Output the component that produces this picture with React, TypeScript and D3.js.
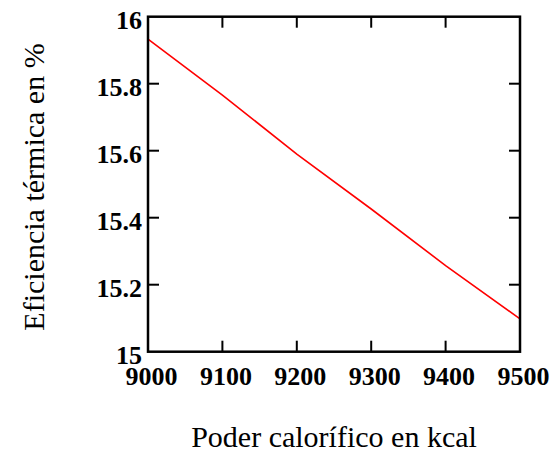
import * as d3 from "d3";

const poder: number[] = [9000, 9100, 9200, 9300, 9400, 9500];
const eficiencia: number[] = [15.933, 15.766, 15.59, 15.426, 15.257, 15.098];
const xTicks: number[] = [9000, 9100, 9200, 9300, 9400, 9500];
const yTicks: number[] = [15, 15.2, 15.4, 15.6, 15.8, 16];

export default function App() {
  const width = 555;
  const height = 451;
  const left = 148;
  const right = 520;
  const top = 16.7;
  const bottom = 351.7;
  const tick = 11;

  const x = d3.scaleLinear().domain([9000, 9500]).range([left, right]);
  const y = d3.scaleLinear().domain([15, 16]).range([bottom, top]);

  const line = d3
    .line<number>()
    .x((_, i) => x(poder[i]))
    .y((d) => y(d));

  const serif = { fontFamily: '"Liberation Serif"' };

  return (
    <svg
      width={width}
      height={height}
      style={{ position: "absolute", left: 0, top: 0, background: "#fff" }}
    >
      <path d={line(eficiencia) ?? ""} fill="none" stroke="#ff0000" strokeWidth={1.6} />

      {xTicks.slice(1, -1).map((t) => (
        <g key={"xt" + t} stroke="#000" strokeWidth={2}>
          <line x1={x(t)} x2={x(t)} y1={bottom} y2={bottom - tick} />
          <line x1={x(t)} x2={x(t)} y1={top} y2={top + tick} />
        </g>
      ))}
      {yTicks.slice(1, -1).map((t) => (
        <g key={"yt" + t} stroke="#000" strokeWidth={2}>
          <line x1={left} x2={left + tick} y1={y(t)} y2={y(t)} />
          <line x1={right} x2={right - tick} y1={y(t)} y2={y(t)} />
        </g>
      ))}

      <rect
        x={left}
        y={top}
        width={right - left}
        height={bottom - top}
        fill="none"
        stroke="#000"
        strokeWidth={2.5}
      />

      {xTicks.map((t) => (
        <text
          key={"xl" + t}
          x={x(t) + 3.5}
          y={385}
          textAnchor="middle"
          style={{ ...serif, fontWeight: "bold", fontSize: "26px" }}
        >
          {t}
        </text>
      ))}
      {yTicks.map((t) => (
        <text
          key={"yl" + t}
          x={142}
          y={y(t) + 12}
          textAnchor="end"
          style={{ ...serif, fontWeight: "bold", fontSize: "26px" }}
        >
          {d3.format("")(t)}
        </text>
      ))}

      <text
        x={(left + right) / 2}
        y={446.5}
        textAnchor="middle"
        style={{ ...serif, fontSize: "30px" }}
      >
        Poder calorífico en kcal
      </text>
      <text
        transform={`translate(44, 187) rotate(-90)`}
        textAnchor="middle"
        style={{ ...serif, fontSize: "30px" }}
      >
        Eficiencia térmica en %
      </text>
    </svg>
  );
}
